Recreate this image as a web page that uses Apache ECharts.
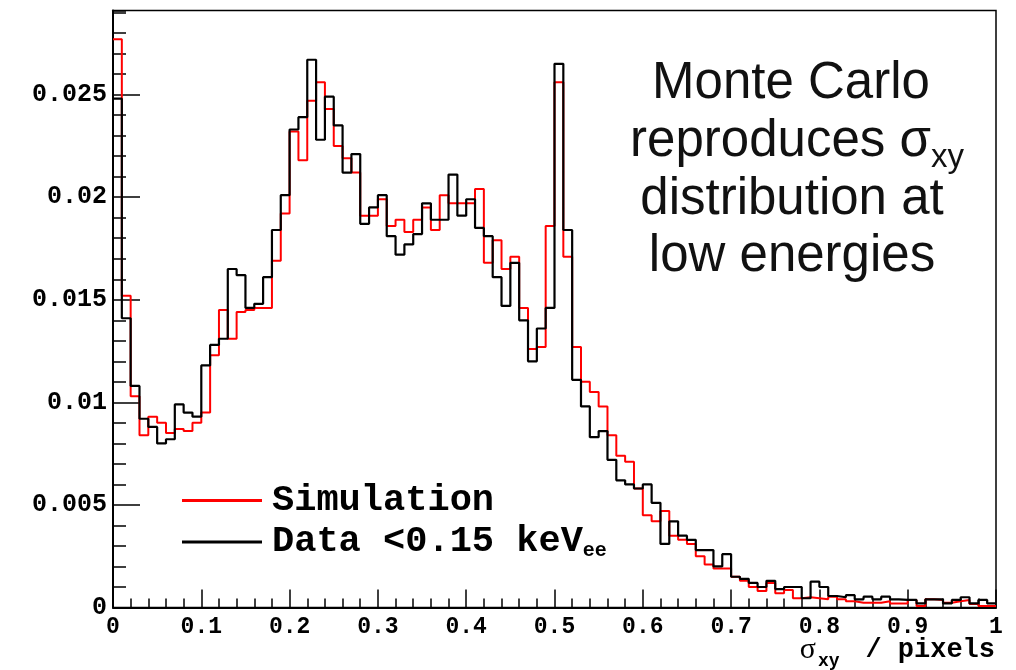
<!DOCTYPE html>
<html>
<head>
<meta charset="utf-8">
<script src="https://cdn.jsdelivr.net/npm/echarts@6/dist/echarts.min.js"></script>
<style>
  html, body { margin: 0; padding: 0; background: #ffffff; }
  #chart { width: 1016px; height: 670px; }
</style>
</head>
<body>
<div id="chart"></div>
<script>
// Histogram binning: 100 bins of width 0.01 between 0 and 1 (sigma_xy in pixels)
const BIN_WIDTH = 0.01;
const X_MIN = 0;
const X_MAX = 1;
const Y_MAX = 0.0291;

// Normalised bin contents, Monte Carlo simulation
const simulation = [
  0.0277, 0.0152, 0.0103, 0.0084, 0.0093, 0.0090, 0.0085, 0.0087, 0.0086, 0.0090,
  0.0095, 0.0123, 0.0145, 0.0131, 0.0144, 0.0145, 0.0146, 0.0146, 0.0169, 0.0192,
  0.0232, 0.0218, 0.0247, 0.0256, 0.0243, 0.0225, 0.0219, 0.0212, 0.0191, 0.0191,
  0.0199, 0.0186, 0.0189, 0.0183, 0.0189, 0.0195, 0.0184, 0.0201, 0.0197, 0.0197,
  0.0197, 0.0204, 0.0168, 0.0179, 0.0165, 0.0171, 0.0146, 0.0126, 0.0127, 0.0186,
  0.0256, 0.0171, 0.0127, 0.0110, 0.0105, 0.0098, 0.0084, 0.0074, 0.0071, 0.0058,
  0.0045, 0.0042, 0.0047, 0.0035, 0.0033, 0.0031, 0.0025, 0.0021, 0.0019, 0.0019,
  0.0015, 0.0013, 0.0010, 0.0008, 0.0012, 0.0007, 0.00085, 0.00045, 0.0005, 0.00045,
  0.0004, 0.00053, 0.0004, 0.0003, 0.00023, 0.00023, 0.00023, 0.0003, 0.0002, 0.0002,
  0.00037, 0.00007, 0.0004, 0.00037, 0.00023, 0.0003, 0.00037, 0.00017, 0.00007, 0.00007
];

// Normalised bin contents, measured events below 0.15 keVee
const data = [
  0.0248, 0.0141, 0.0108, 0.0092, 0.0088, 0.0080, 0.0082, 0.0099, 0.0095, 0.0093,
  0.0118, 0.0128, 0.0131, 0.0165, 0.0162, 0.0146, 0.0148, 0.0161, 0.0184, 0.0201,
  0.0233, 0.0239, 0.0267, 0.0228, 0.0249, 0.0235, 0.0212, 0.0221, 0.0187, 0.0195,
  0.0201, 0.0181, 0.0172, 0.0177, 0.0182, 0.0197, 0.0189, 0.0189, 0.0211, 0.0191,
  0.0199, 0.0185, 0.0181, 0.0161, 0.0147, 0.0168, 0.0140, 0.0120, 0.0136, 0.0146,
  0.0265, 0.0184, 0.0111, 0.0098, 0.0083, 0.0086, 0.0072, 0.0062, 0.0060, 0.0058,
  0.0060, 0.0051, 0.0031, 0.0042, 0.0035, 0.0033, 0.0028, 0.0028, 0.0020, 0.0026,
  0.0015, 0.0014, 0.0012, 0.0010, 0.0013, 0.0009, 0.0010, 0.0010, 0.00045, 0.00126,
  0.0010, 0.00056, 0.0005, 0.0006, 0.0004, 0.00053, 0.0004, 0.00053, 0.0004, 0.00037,
  0.00037, 0.0002, 0.0004, 0.0004, 0.0002, 0.00037, 0.0005, 0.0002, 0.00037, 0.0002
];

const X_TICK_STEP = 0.1;
const Y_MAJOR_STEP = 0.005;
const Y_MINOR_STEP = 0.001;

const legendNames = ['Simulation', 'Data <0.15 keV'];
const legendSub = 'ee';
const noteLines = ['Monte Carlo', 'reproduces \u03c3', 'distribution at', 'low energies'];
const noteSub = 'xy';
const axisTitle = { symbol: '\u03c3', sub: 'xy', unit: '/ pixels' };

const MONO = '"Liberation Mono", "DejaVu Sans Mono", monospace';
const SANS = '"Liberation Sans", Arial, Helvetica, sans-serif';
const SERIF = '"Liberation Serif", "DejaVu Serif", serif';

// Turn bin contents into step-line vertices at the bin edges
function binSteps(values) {
  const pts = values.map((v, i) => [Number((X_MIN + i * BIN_WIDTH).toFixed(4)), v]);
  pts.push([X_MAX, values[values.length - 1]]);
  return pts;
}

const chart = echarts.init(document.getElementById('chart'), null, { renderer: 'canvas' });

const axisLineStyle = { color: '#000', width: 2 };
const tickLineStyle = { color: '#000', width: 1.5 };

const option = {
  animation: false,
  backgroundColor: '#ffffff',
  grid: {
    left: 113, right: 20, top: 10.5, bottom: 62.5,
    show: true, borderColor: '#000', borderWidth: 1.5,
    outerBoundsMode: 'none'
  },
  xAxis: {
    type: 'value', min: X_MIN, max: X_MAX, interval: X_TICK_STEP,
    axisLine: { show: true, onZero: false, lineStyle: axisLineStyle },
    axisTick: { show: true, inside: true, length: 18, lineStyle: tickLineStyle },
    minorTick: { show: true, splitNumber: 5, length: 9, lineStyle: tickLineStyle },
    splitLine: { show: false },
    minorSplitLine: { show: false },
    axisLabel: {
      margin: 8, color: '#000', fontFamily: MONO, fontWeight: 'bold', fontSize: 23,
      showMinLabel: true, showMaxLabel: true, hideOverlap: false
    }
  },
  yAxis: [
    {
      type: 'value', min: 0, max: Y_MAX, interval: Y_MAJOR_STEP, position: 'left',
      axisLine: { show: true, onZero: false, lineStyle: axisLineStyle },
      axisTick: { show: true, inside: true, length: 27, lineStyle: tickLineStyle },
      splitLine: { show: false },
      axisLabel: {
        margin: 6, color: '#000', fontFamily: MONO, fontWeight: 'bold', fontSize: 25,
        showMinLabel: true, showMaxLabel: false, hideOverlap: false
      }
    },
    {
      // finer tick marks every 0.001
      type: 'value', min: 0, max: Y_MAX, interval: Y_MINOR_STEP, position: 'left',
      axisLine: { show: false },
      axisTick: { show: true, inside: true, length: 13, lineStyle: tickLineStyle },
      splitLine: { show: false },
      axisLabel: { show: false }
    }
  ],
  legend: {
    orient: 'vertical', left: 177, top: 477,
    itemWidth: 80, itemHeight: 3, itemGap: 4, icon: 'rect',
    selectedMode: false,
    data: legendNames,
    formatter: function (name) {
      return name === legendNames[1]
        ? '{m|' + name + '}{s|' + legendSub + '}'
        : '{m|' + name + '}';
    },
    textStyle: {
      padding: [0, 0, 0, 5],
      rich: {
        m: { fontFamily: MONO, fontWeight: 'bold', fontSize: 37, color: '#000', lineHeight: 40 },
        s: { fontFamily: MONO, fontWeight: 'bold', fontSize: 20, color: '#000', lineHeight: 22, padding: [18, 0, 0, 0] }
      }
    }
  },
  series: [
    {
      name: legendNames[0], type: 'line', step: 'end',
      data: binSteps(simulation), showSymbol: false, symbol: 'none',
      lineStyle: { color: '#ff0000', width: 2 }, itemStyle: { color: '#ff0000' },
      z: 2, silent: true
    },
    {
      name: legendNames[1], type: 'line', step: 'end',
      data: binSteps(data), showSymbol: false, symbol: 'none',
      lineStyle: { color: '#000000', width: 2.2 }, itemStyle: { color: '#000000' },
      z: 3, silent: true
    }
  ],
  graphic: [
    { type: 'text', x: 791, y: 84, style: { text: noteLines[0], fontFamily: SANS, fontSize: 51, fill: '#111', align: 'center', verticalAlign: 'middle' } },
    { type: 'text', x: 797, y: 142, style: {
        text: '{m|' + noteLines[1] + '}{s|' + noteSub + '}',
        align: 'center', verticalAlign: 'middle',
        rich: {
          m: { fontFamily: SANS, fontSize: 51, fill: '#111', lineHeight: 58 },
          s: { fontFamily: SANS, fontSize: 33, fill: '#111', lineHeight: 26, padding: [32, 0, 0, 0] }
        }
      } },
    { type: 'text', x: 792, y: 200, style: { text: noteLines[2], fontFamily: SANS, fontSize: 51, fill: '#111', align: 'center', verticalAlign: 'middle' } },
    { type: 'text', x: 792, y: 257, style: { text: noteLines[3], fontFamily: SANS, fontSize: 51, fill: '#111', align: 'center', verticalAlign: 'middle' } },
    // axis title: sigma_xy / pixels
    { type: 'text', x: 995, y: 650, style: { text: axisTitle.unit, fontFamily: MONO, fontWeight: 'bold', fontSize: 27, fill: '#000', align: 'right', verticalAlign: 'middle' } },
    { type: 'text', x: 818, y: 661, style: { text: axisTitle.sub, fontFamily: MONO, fontWeight: 'bold', fontSize: 18, fill: '#000', align: 'left', verticalAlign: 'middle' } },
    { type: 'text', x: 816, y: 650, style: { text: axisTitle.symbol, fontFamily: SERIF, fontSize: 30, fill: '#000', align: 'right', verticalAlign: 'middle' } }
  ]
};

chart.setOption(option);
</script>
</body>
</html>
